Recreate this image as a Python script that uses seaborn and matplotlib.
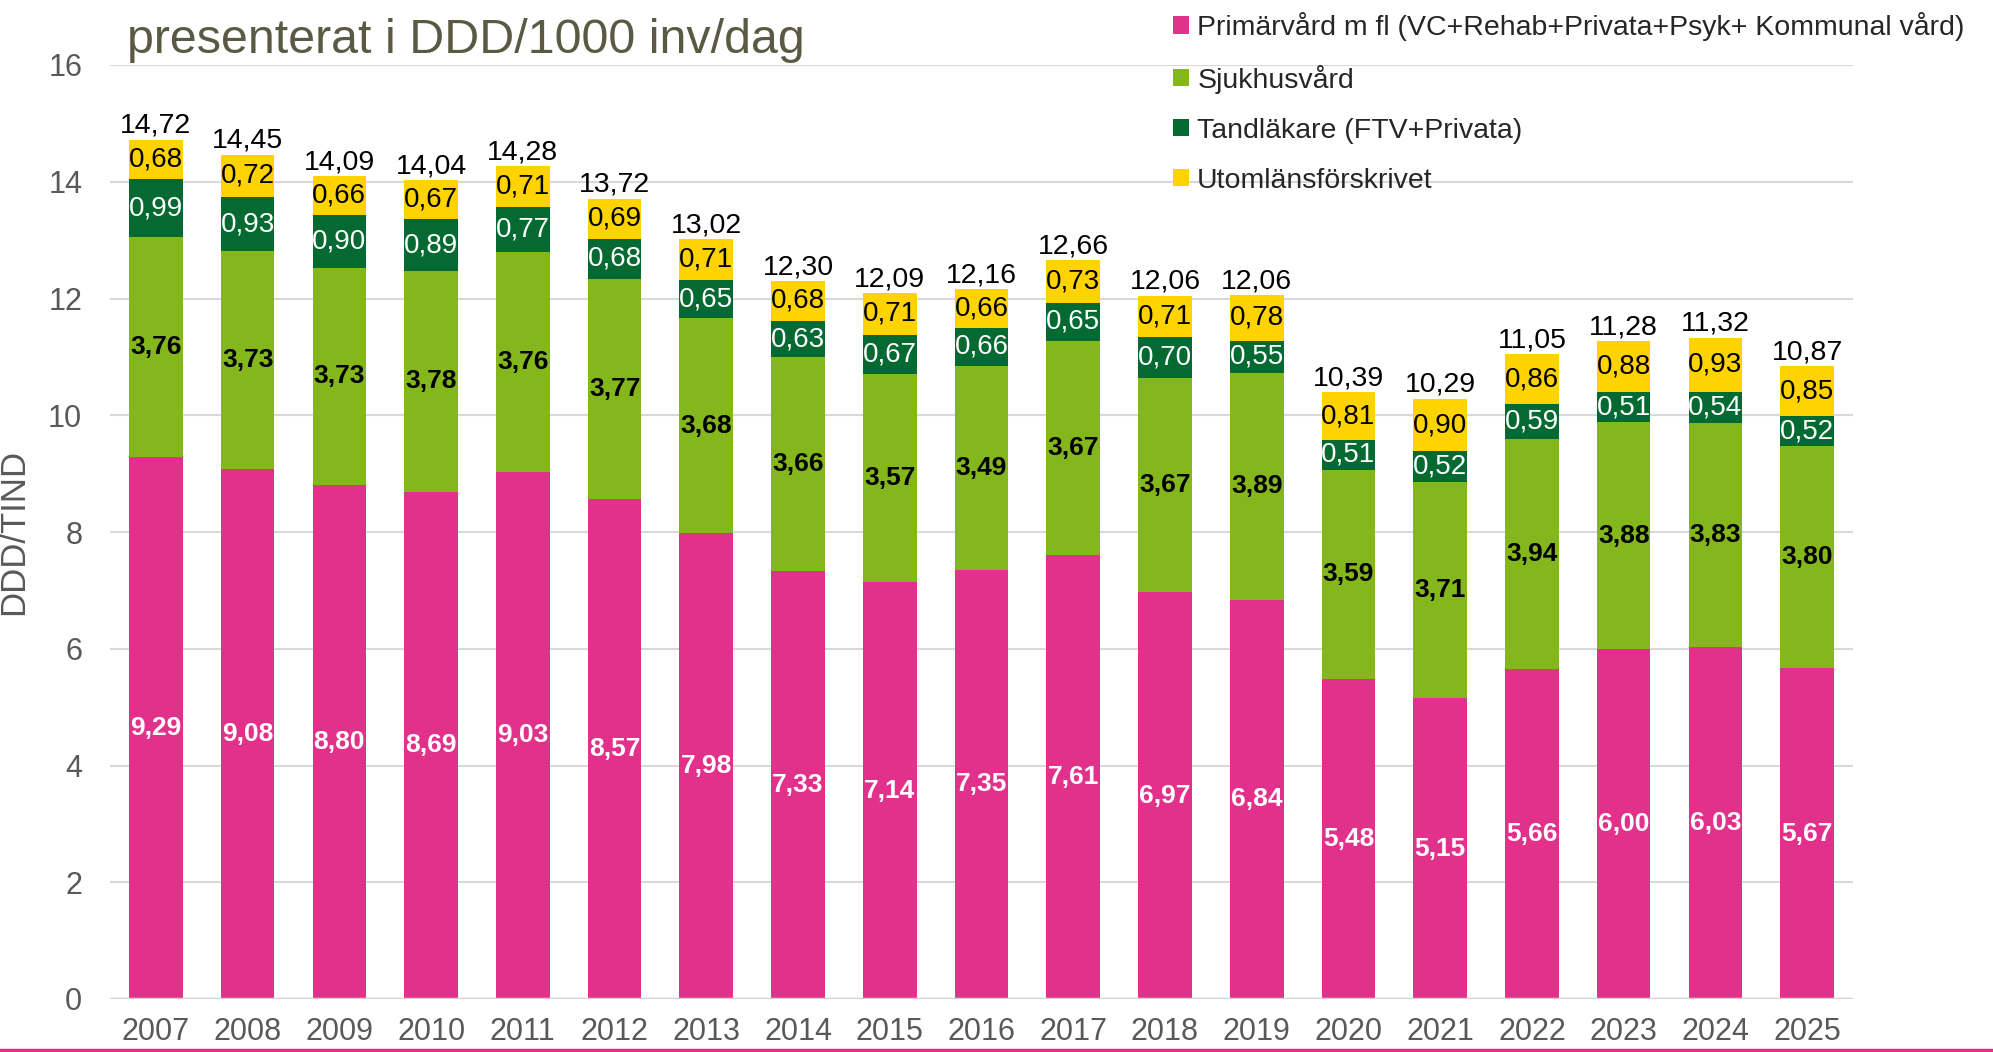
import pandas as pd
import matplotlib.pyplot as plt
import seaborn as sns
from matplotlib.patches import Patch

# values (DDD/TIND)
years = ['2007', '2008', '2009', '2010', '2011', '2012', '2013', '2014', '2015', '2016',
         '2017', '2018', '2019', '2020', '2021', '2022', '2023', '2024', '2025']
primar = [9.29, 9.08, 8.80, 8.69, 9.03, 8.57, 7.98, 7.33, 7.14, 7.35,
          7.61, 6.97, 6.84, 5.48, 5.15, 5.66, 6.00, 6.03, 5.67]
sjukhus = [3.76, 3.73, 3.73, 3.78, 3.76, 3.77, 3.68, 3.66, 3.57, 3.49,
           3.67, 3.67, 3.89, 3.59, 3.71, 3.94, 3.88, 3.83, 3.80]
tand = [0.99, 0.93, 0.90, 0.89, 0.77, 0.68, 0.65, 0.63, 0.67, 0.66,
        0.65, 0.70, 0.55, 0.51, 0.52, 0.59, 0.51, 0.54, 0.52]
utom = [0.68, 0.72, 0.66, 0.67, 0.71, 0.69, 0.71, 0.68, 0.71, 0.66,
        0.73, 0.71, 0.78, 0.81, 0.90, 0.86, 0.88, 0.93, 0.85]
totals = [14.72, 14.45, 14.09, 14.04, 14.28, 13.72, 13.02, 12.30, 12.09, 12.16,
          12.66, 12.06, 12.06, 10.39, 10.29, 11.05, 11.28, 11.32, 10.87]

series_names = ['Primärvård m fl (VC+Rehab+Privata+Psyk+ Kommunal vård)',
                'Sjukhusvård', 'Tandläkare (FTV+Privata)', 'Utomlänsförskrivet']
colors = ['#E2318A', '#84B71B', '#046A32', '#FFD300']

df = pd.DataFrame({'year': years, 'p': primar, 's': sjukhus, 't': tand, 'u': utom})
df['c1'] = df['p']
df['c2'] = df['c1'] + df['s']
df['c3'] = df['c2'] + df['t']
df['c4'] = df['c3'] + df['u']

sns.set_style('white')
plt.rcParams['font.family'] = ['Liberation Sans', 'DejaVu Sans']

fig = plt.figure(figsize=(19.93, 10.52), dpi=100)
ax = fig.add_axes([110/1993, 1 - 999/1052, (1853-110)/1993, (999-65)/1052])

# stacked bars: draw cumulative heights from top layer down
for col, c in zip(['c4', 'c3', 'c2', 'c1'], colors[::-1]):
    sns.barplot(data=df, x='year', y=col, color=c, saturation=1, width=0.585,
                linewidth=0, ax=ax, zorder=3)

fmt = lambda v: f"{v:.2f}".replace('.', ',')
for i in range(len(years)):
    ax.text(i, df['c1'][i] / 2, fmt(primar[i]), ha='center', va='center',
            color='white', fontsize=19, fontweight='bold', zorder=5)
    ax.text(i, (df['c1'][i] + df['c2'][i]) / 2, fmt(sjukhus[i]), ha='center', va='center',
            color='black', fontsize=19, fontweight='bold', zorder=5)
    ax.text(i, (df['c2'][i] + df['c3'][i]) / 2, fmt(tand[i]), ha='center', va='center',
            color='white', fontsize=20, zorder=5)
    ax.text(i, (df['c3'][i] + df['c4'][i]) / 2, fmt(utom[i]), ha='center', va='center',
            color='black', fontsize=20, zorder=5)
    ax.annotate(fmt(totals[i]), (i, df['c4'][i]), xytext=(0, 5), textcoords='offset points',
                ha='center', va='baseline', fontsize=20.5, color='black', zorder=5)

ax.set_ylim(0, 16)
ax.set_xlim(-0.5, 18.5)
ax.set_yticks(range(0, 17, 2))
ax.yaxis.grid(True, color='#D9D9D9', linewidth=1.5, zorder=0)
ax.axhline(0, color='#D3D3D3', linewidth=2.5, zorder=4)
ax.tick_params(axis='both', length=0, labelsize=22, labelcolor='#595959')
ax.tick_params(axis='y', pad=20)
ax.tick_params(axis='x', pad=13)
ax.set_xlabel('')
ax.set_ylabel('DDD/TIND', fontsize=25, color='#595959')
ax.yaxis.set_label_coords(-0.046, 0.5)
sns.despine(ax=ax, left=True, bottom=True)

fig.text(127/1993, 1 - 53/1052, 'presenterat i DDD/1000 inv/dag', fontsize=34.8,
         color='#5A5A44', ha='left', va='baseline')

handles = [Patch(facecolor=c, edgecolor='none') for c in colors]
fig.legend(handles, series_names, loc='upper left', bbox_to_anchor=(1173/1993, 1 - 12/1052),
           frameon=False, fontsize=20.5, handlelength=0.55, handleheight=0.55,
           handletextpad=0.3, labelspacing=0.84, borderpad=0, borderaxespad=0)

# pink rule along the bottom edge
fig.add_artist(plt.Line2D([0, 1], [0.0015, 0.0015], color='#E2318A', linewidth=2.5,
                          transform=fig.transFigure))

fig.savefig('out.png', dpi=100)
